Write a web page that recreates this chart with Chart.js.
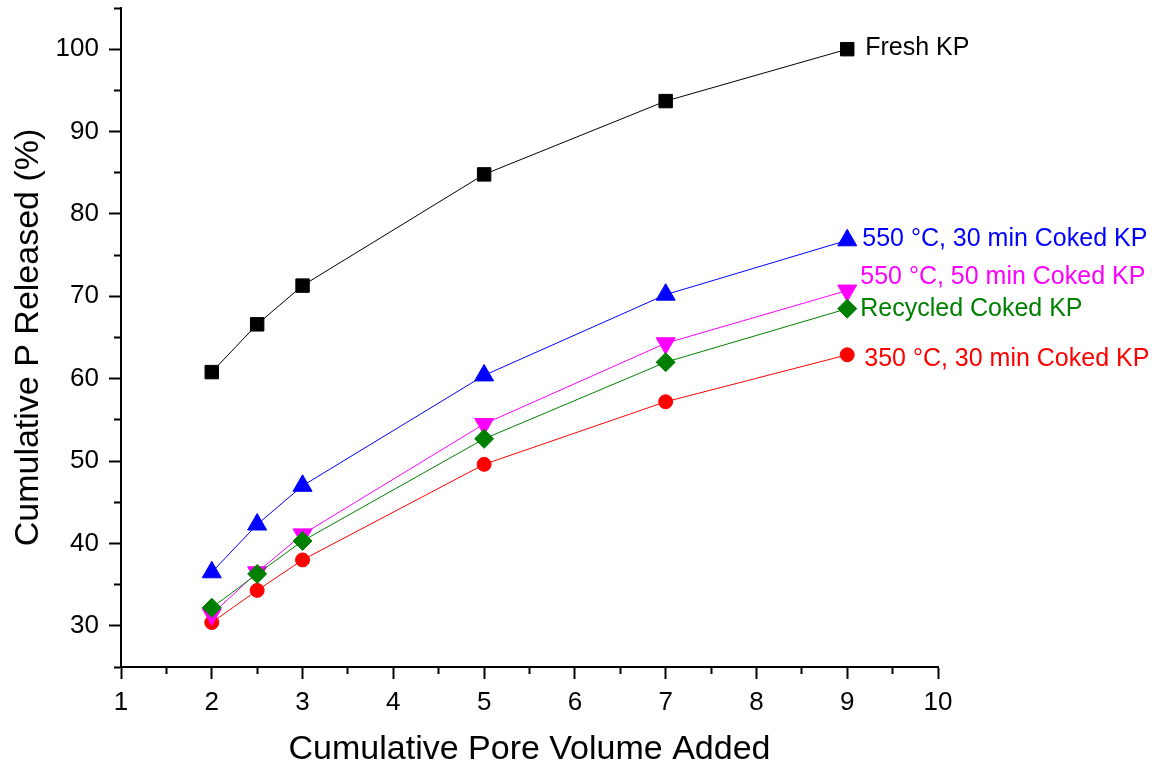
<!DOCTYPE html>
<html>
<head>
<meta charset="utf-8">
<title>Cumulative P Released</title>
<script src="https://cdn.jsdelivr.net/npm/chart.js@4/dist/chart.umd.min.js"></script>
<style>
    html, body { margin: 0; padding: 0; background: #ffffff; }
    #wrap { position: relative; width: 1162px; height: 772px; }
</style>
</head>
<body>
<div id="wrap"><canvas id="release-chart"></canvas></div>
<script>
'use strict';

// cumulative pore volumes at which leachate was sampled
const poreVolume = [2, 2.5, 3, 5, 7, 9];

// cumulative P released (%) per material
const freshKP = [60.8, 66.6, 71.3, 84.8, 93.7, 100.0];
const coked550min30 = [36.5, 42.3, 47.0, 60.4, 70.2, 76.8];
const coked550min50 = [31.4, 36.5, 41.1, 54.5, 64.3, 70.7];
const recycledKP = [32.2, 36.3, 40.3, 52.7, 62.0, 68.5];
const coked350min30 = [30.4, 34.3, 38.0, 49.6, 57.2, 62.9];

const seriesNames = [
    'Fresh KP',
    '550 °C, 30 min Coked KP',
    'Recycled Coked KP',
    '550 °C, 50 min Coked KP',
    '350 °C, 30 min Coked KP',
];

const xTickLabels = [1, 2, 3, 4, 5, 6, 7, 8, 9, 10];
const yTickLabels = [30, 40, 50, 60, 70, 80, 90, 100];

const FONT = '"Liberation Sans", Arial, Helvetica, sans-serif';

const points = (values) => poreVolume.map((x, i) => ({x: x, y: values[i]}));

function series(label, values, color, style, radius, rotation, dx, dy) {
    return {
        label: label,
        data: points(values),
        borderColor: color,
        backgroundColor: color,
        borderWidth: 1,
        pointStyle: style,
        pointRadius: radius,
        pointRotation: rotation,
        pointBorderWidth: 1,
        pointBorderColor: color,
        pointBackgroundColor: color,
        tension: 0,
        clip: false,
        endLabel: {dx: dx, dy: dy},
    };
}

// writes each series name beside its last point, in the series colour
const endLabels = {
    id: 'endLabels',
    afterDatasetsDraw(chart) {
        const ctx = chart.ctx;
        ctx.save();
        ctx.font = '25px ' + FONT;
        ctx.textAlign = 'left';
        ctx.textBaseline = 'middle';
        chart.data.datasets.forEach((ds, i) => {
            const meta = chart.getDatasetMeta(i);
            const last = meta.data[meta.data.length - 1];
            ctx.fillStyle = ds.borderColor;
            ctx.fillText(ds.label, last.x + ds.endLabel.dx, last.y + ds.endLabel.dy);
        });
        ctx.restore();
    }
};

// long ticks on labelled values, short ones in between
function isMajor(value, majors) {
    return majors.indexOf(value) !== -1;
}

window.addEventListener('load', () => {
    const config = {
        type: 'line',
        data: {
            datasets: [
                series(seriesNames[0], freshKP, '#000000', 'rect', 9.5, 0, 18, -1),
                series(seriesNames[1], coked550min30, '#0000ff', 'triangle', 11, 0, 15, -1),
                series(seriesNames[2], recycledKP, '#008000', 'rectRot', 9.5, 0, 13, 0),
                series(seriesNames[3], coked550min50, '#ff00ff', 'triangle', 11, 180, 13, -13),
                series(seriesNames[4], coked350min30, '#ff0000', 'circle', 7, 0, 17, 4),
            ]
        },
        options: {
            responsive: true,
            maintainAspectRatio: false,
            animation: false,
            events: [],
            layout: {
                autoPadding: false,
                padding: {top: 8, right: 224, bottom: 0, left: 0}
            },
            plugins: {
                legend: {display: false},
                tooltip: {enabled: false},
            },
            scales: {
                x: {
                    type: 'linear',
                    min: 1,
                    max: 10,
                    afterFit(scale) {
                        scale.height = 105;
                        scale.paddingLeft = 0;
                        scale.paddingRight = 0;
                    },
                    border: {display: true, color: '#000000', width: 2},
                    grid: {
                        drawOnChartArea: false,
                        drawTicks: true,
                        tickLength: 12,
                        tickWidth: 2,
                        tickColor: '#000000',
                        tickBorderDash: (c) => isMajor(c.tick.value, xTickLabels) ? [] : [6, 100],
                    },
                    ticks: {
                        stepSize: 0.5,
                        autoSkip: false,
                        maxRotation: 0,
                        padding: 8,
                        color: '#000000',
                        font: {family: FONT, size: 26},
                        callback: (value) => isMajor(value, xTickLabels) ? String(value) : '',
                    },
                    title: {
                        display: true,
                        text: 'Cumulative Pore Volume Added',
                        color: '#000000',
                        font: {family: FONT, size: 34, lineHeight: 1.2},
                        padding: {top: 0, bottom: 2},
                    },
                },
                y: {
                    type: 'linear',
                    min: 25,
                    max: 105,
                    afterFit(scale) {
                        scale.width = 121;
                        scale.paddingTop = 0;
                        scale.paddingBottom = 0;
                    },
                    border: {display: true, color: '#000000', width: 2},
                    grid: {
                        drawOnChartArea: false,
                        drawTicks: true,
                        tickLength: 12,
                        tickWidth: 2,
                        tickColor: '#000000',
                        tickBorderDash: (c) => isMajor(c.tick.value, yTickLabels) ? [] : [0, 5, 7, 100],
                    },
                    ticks: {
                        stepSize: 5,
                        autoSkip: false,
                        padding: 10,
                        color: '#000000',
                        font: {family: FONT, size: 26},
                        callback: (value) => isMajor(value, yTickLabels) ? String(value) : '',
                    },
                    title: {
                        display: true,
                        text: 'Cumulative P Released (%)',
                        color: '#000000',
                        font: {family: FONT, size: 34, lineHeight: 1.2},
                        padding: {top: 8, bottom: 0},
                    },
                },
            },
        },
        plugins: [endLabels],
    };
    new Chart(document.getElementById('release-chart'), config);
});
</script>
</body>
</html>
